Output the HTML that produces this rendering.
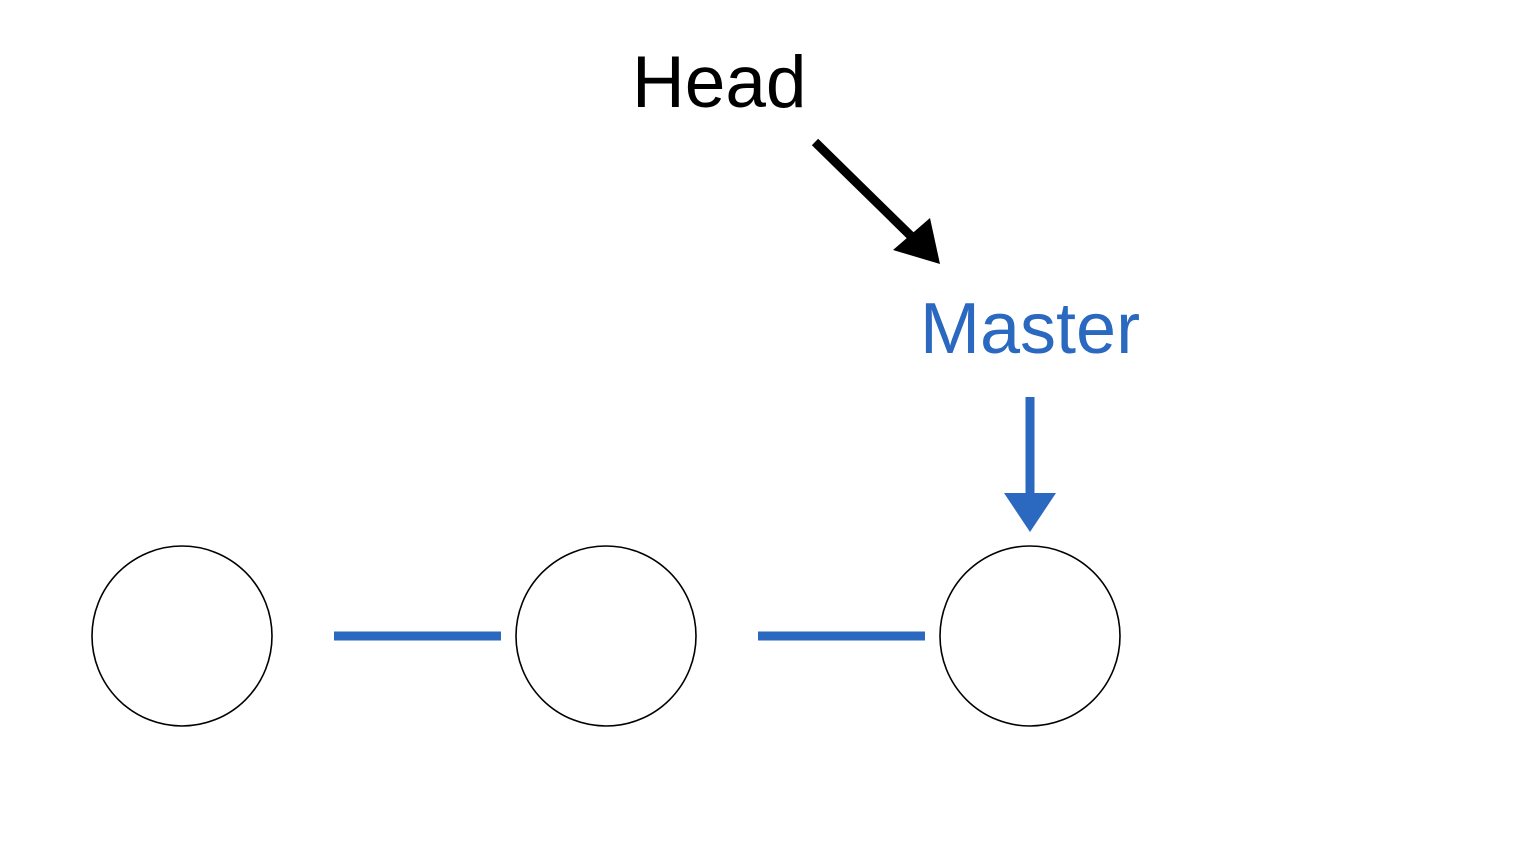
<!DOCTYPE html>
<html><head><meta charset="utf-8"><style>
html,body{margin:0;padding:0;background:#fff;}
body{width:1532px;height:850px;position:relative;overflow:hidden;font-family:"Liberation Sans",sans-serif;}
.t{position:absolute;line-height:1;white-space:nowrap;}
</style></head><body>
<div class="t" style="left:632px;top:46px;font-size:73px;color:#000;">Head</div>
<div class="t" style="left:920px;top:293px;font-size:72px;color:#2a69bf;">Master</div>
<svg width="1532" height="850" style="position:absolute;left:0;top:0">
<circle cx="182" cy="636" r="90" fill="none" stroke="#000" stroke-width="1.6"/>
<circle cx="606" cy="636" r="90" fill="none" stroke="#000" stroke-width="1.6"/>
<circle cx="1030" cy="636" r="90" fill="none" stroke="#000" stroke-width="1.6"/>
<line x1="334" y1="636" x2="501" y2="636" stroke="#2a69bf" stroke-width="9"/>
<line x1="758" y1="636" x2="925" y2="636" stroke="#2a69bf" stroke-width="9"/>
<line x1="815" y1="142" x2="915" y2="240" stroke="#000" stroke-width="9"/>
<polygon points="893,250 930,218 940,264" fill="#000"/>
<line x1="1030" y1="397" x2="1030" y2="500" stroke="#2a69bf" stroke-width="9"/>
<polygon points="1004,493 1056,493 1030,532" fill="#2a69bf"/>
</svg>
</body></html>
